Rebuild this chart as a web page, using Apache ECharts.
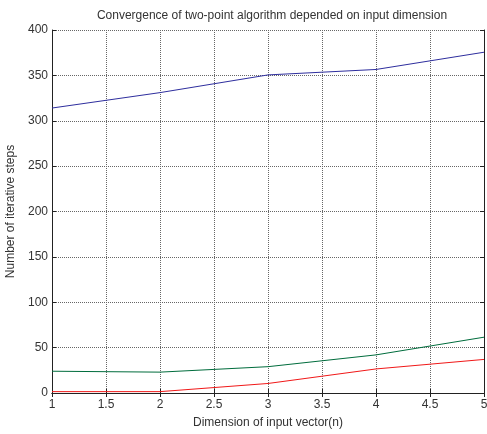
<!DOCTYPE html>
<html>
<head>
<meta charset="utf-8">
<script src="https://cdn.jsdelivr.net/npm/echarts@6/dist/echarts.min.js"></script>
<style>
  html, body { margin: 0; padding: 0; background: #fff; }
  #chart { width: 487px; height: 434px; }
</style>
</head>
<body>
<div id="chart"></div>
<script>
// data
var dims = [1, 2, 3, 4, 5];
var blueSteps = [314, 331, 350.5, 356.5, 375.5];
var greenSteps = [24, 23, 29, 42, 61.5];
var redSteps = [1.5, 1.5, 10.5, 26.5, 37];

var font = 'Liberation Sans, Arial, sans-serif';
var textColor = '#333';

function pairs(ys) {
    return dims.map(function (d, i) { return [d, ys[i]]; });
}

var chart = echarts.init(document.getElementById('chart'));

// top / right axes only close the box (matlab style)
var boxAxis = {
    axisLine: {show: true, lineStyle: {color: '#222', width: 1}},
    axisTick: {show: true, inside: true, length: 4, lineStyle: {color: '#222'}},
    axisLabel: {show: false},
    splitLine: {show: false}
};

var option = {
    animation: false,
    backgroundColor: '#fff',
    title: {
        text: 'Convergence of two-point algorithm depended on input dimension',
        left: 267,
        textAlign: 'center',
        top: 5,
        textStyle: {fontFamily: font, fontSize: 12, fontWeight: 'normal', color: textColor}
    },
    grid: {left: 52, right: 3, top: 30, bottom: 41, containLabel: false, outerBoundsMode: 'none'},
    xAxis: [{
        type: 'value',
        min: 1, max: 5, interval: 0.5,
        name: 'Dimension of input vector(n)',
        nameLocation: 'middle',
        nameGap: 24,
        nameTextStyle: {fontFamily: font, fontSize: 12, color: textColor},
        axisLine: {show: true, lineStyle: {color: '#222'}},
        axisTick: {show: true, inside: true, length: 4, lineStyle: {color: '#222'}},
        axisLabel: {fontFamily: font, fontSize: 12, color: textColor, margin: 6},
        splitLine: {show: true, lineStyle: {color: '#666', type: [1, 1], width: 1}}
    }, Object.assign({
        type: 'value', position: 'top', min: 1, max: 5, interval: 0.5
    }, boxAxis)],
    yAxis: [{
        type: 'value',
        min: 0, max: 400, interval: 50,
        name: 'Number of iterative steps',
        nameLocation: 'middle',
        nameGap: 29,
        nameTextStyle: {fontFamily: font, fontSize: 12, color: textColor},
        axisLine: {show: true, lineStyle: {color: '#222'}},
        axisTick: {show: true, inside: true, length: 4, lineStyle: {color: '#222'}},
        axisLabel: {fontFamily: font, fontSize: 12, color: textColor, margin: 4},
        splitLine: {show: true, lineStyle: {color: '#666', type: [1, 1], width: 1}}
    }, Object.assign({
        type: 'value', position: 'right', min: 0, max: 400, interval: 50
    }, boxAxis)],
    series: [
        {type: 'line', data: pairs(blueSteps), symbol: 'none',
         lineStyle: {color: '#2e2e9e', width: 1}},
        {type: 'line', data: pairs(greenSteps), symbol: 'none',
         lineStyle: {color: '#006c3c', width: 1}},
        {type: 'line', data: pairs(redSteps), symbol: 'none',
         lineStyle: {color: '#f01818', width: 1}}
    ]
};

chart.setOption(option);
</script>
</body>
</html>
